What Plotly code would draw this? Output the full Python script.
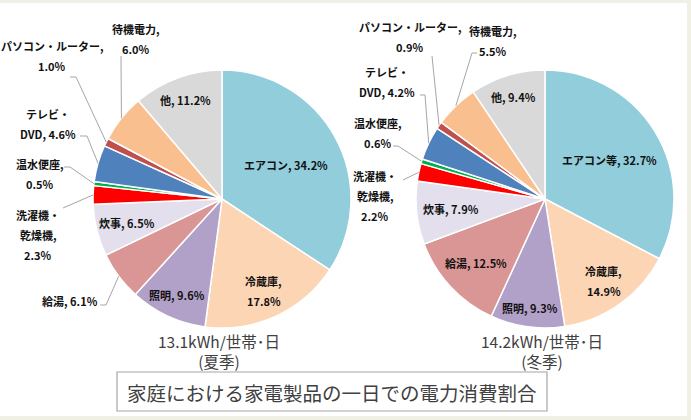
import math
import plotly.graph_objects as go

# categories (clockwise from 12 o'clock)
summer_names = ["エアコン", "冷蔵庫", "照明", "給湯", "炊事", "洗濯機・乾燥機",
                "温水便座", "テレビ・DVD", "パソコン・ルーター", "待機電力", "他"]
winter_names = ["エアコン等", "冷蔵庫", "照明", "給湯", "炊事", "洗濯機・乾燥機",
                "温水便座", "テレビ・DVD", "パソコン・ルーター", "待機電力", "他"]

# share of daily consumption (%)
summer_values = [34.2, 17.8, 9.6, 6.1, 6.5, 2.3, 0.5, 4.6, 1.0, 6.0, 11.2]
winter_values = [32.7, 14.9, 9.3, 12.5, 7.9, 2.2, 0.6, 4.2, 0.9, 5.5, 9.4]

summer_caption = ["13.1kWh/世帯･日", "(夏季)"]
winter_caption = ["14.2kWh/世帯･日", "(冬季)"]
title_text = "家庭における家電製品の一日での電力消費割合"

colors = ["#92CDDC", "#FCD5B5", "#B1A0C7", "#DA9694", "#E4DFEC", "#FF0000",
          "#00B050", "#4F81BD", "#C0504D", "#FABF8F", "#D9D9D9"]

W, H = 691, 420
R = 129
FONT = "Noto Sans CJK JP"

# label layout per slice: ("in", radial fraction) or ("out", x, y, leader points)
summer_fmt = ["{n}, {v}", "{n},\n{v}", "{n}, {v}", "{n}, {v}", "{n}, {v}",
              "{a}・\n{b},\n{v}", "{n},\n{v}", "{a}・\n{b}, {v}", "{n},\n{v}",
              "{n},\n{v}", "{n}, {v}"]
summer_pos = [("in", 0.56), ("in", 0.78), ("in", 0.82),
              ("out", 70, 301, [(100, 305), (106, 305)]),
              ("in", 0.76),
              ("out", 38, 235, [(63, 208)]),
              ("out", 40, 174, [(64, 167), (70, 167)]),
              ("out", 48, 124, [(80, 136), (87, 136)]),
              ("out", 52, 56, [(70, 77), (76, 77)]),
              ("out", 136, 39, [(121, 56)]),
              ("in", 0.82)]
winter_fmt = summer_fmt
winter_pos = [("in", 0.58), ("in", 0.78), ("in", 0.85), ("in", 0.73), ("in", 0.73),
              ("out", 375, 196, [(403, 180)]),
              ("out", 378, 133, [(393, 146), (398, 146)]),
              ("out", 387, 82, [(420, 95), (425, 95)]),
              ("out", 410, 37, [(432, 56)]),
              ("out", 493, 41, [(477, 53), (472, 53)]),
              ("in", 0.83)]

fig = go.Figure()
annotations = []
shapes = []


def add_pie(names, values, cx, cy, fmts, positions, caption):
    fig.add_trace(go.Pie(
        labels=names, values=values, sort=False, direction="clockwise", rotation=0,
        marker=dict(colors=colors, line=dict(color="white", width=1.5)),
        textinfo="none", showlegend=False,
        domain=dict(x=[(cx - R) / W, (cx + R) / W],
                    y=[1 - (cy + R) / H, 1 - (cy - R) / H]),
    ))
    total = sum(values)
    cum = 0.0
    for name, val, fmt, pos in zip(names, values, fmts, positions):
        theta = math.radians((cum + val / 2) / total * 360)
        cum += val
        parts = name.split("・")
        text = fmt.format(n=name, a=parts[0], b=parts[-1], v=f"{val:.1f}%")
        lines = text.split("\n")
        if pos[0] == "in":
            lx = cx + pos[1] * R * math.sin(theta)
            ly = cy - pos[1] * R * math.cos(theta)
        else:
            lx, ly = pos[1], pos[2]
            # leader line ends on the slice edge at its mid angle
            ex = cx + R * math.sin(theta)
            ey = cy - R * math.cos(theta)
            pts = pos[3] + [(ex, ey)]
            path = "M " + " L ".join(f"{px},{py}" for px, py in pts)
            shapes.append(dict(type="path", path=path, xref="x", yref="y",
                               line=dict(color="#A6A6A6", width=1)))
        step = 20
        y0 = ly - step * (len(lines) - 1) / 2
        for i, ln in enumerate(lines):
            annotations.append(dict(
                x=lx, y=y0 + i * step, xref="x", yref="y", text=f"<b>{ln}</b>",
                showarrow=False, xanchor="center", yanchor="middle",
                font=dict(family=FONT, size=11, color="#111111")))
    annotations.append(dict(
        x=cx - 3, y=350.5, xref="x", yref="y", text="<br>".join(caption),
        showarrow=False, xanchor="center", yanchor="middle",
        font=dict(family=FONT, size=15.5, color="#404040")))


add_pie(summer_names, summer_values, 222, 199, summer_fmt, summer_pos, summer_caption)
add_pie(winter_names, winter_values, 545, 199, winter_fmt, winter_pos, winter_caption)

# title box
shapes.append(dict(type="rect", xref="x", yref="y", x0=117, x1=547, y0=372, y1=411,
                   line=dict(color="#A6A6A6", width=1.2), fillcolor="white"))
annotations.append(dict(x=332, y=392, xref="x", yref="y", text=title_text,
                        showarrow=False, xanchor="center", yanchor="middle",
                        font=dict(family=FONT, size=19.5, color="#404040")))

fig.update_layout(
    width=W, height=H,
    margin=dict(l=0, r=0, t=0, b=0),
    paper_bgcolor="#F0F0E4",
    plot_bgcolor="white",
    xaxis=dict(range=[0, 687], domain=[0, 687 / W], visible=False, fixedrange=True),
    yaxis=dict(range=[416, 3], domain=[1 - 416 / H, 1 - 3 / H], visible=False,
               fixedrange=True),
    annotations=annotations,
    shapes=shapes,
)

# drop the default page margin so the figure fills the window
fig.write_html("out.html", config={"displayModeBar": False},
               post_script="document.body.style.margin='0';")
